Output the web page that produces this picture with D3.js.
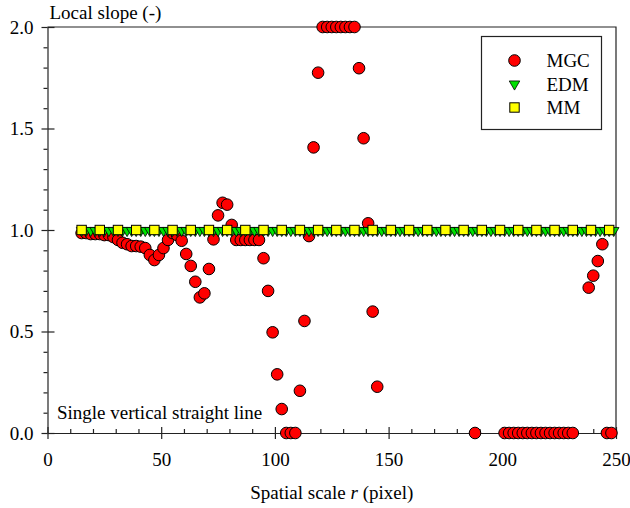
<!DOCTYPE html>
<html>
<head>
<meta charset="utf-8">
<script src="https://cdn.jsdelivr.net/npm/d3@7"></script>
<style>
  html, body { margin: 0; padding: 0; background: #fff; }
  svg { display: block; }
  text { font-family: "Liberation Serif", "Times New Roman", serif; fill: #000; }
</style>
</head>
<body>
<svg id="chart" width="630" height="508"></svg>
<script>
// ---- Data ----
const mgcX = [15,17,19,21,23,25,27,29,31,33,35,37,39,41,43,45,47,49,51,53,55,57,59,61,63,65,67,69,71,73,75,77,79,81,
  83,85,87,89,91,93,95,97,99,101,103,105,107,109,111,113,115,117,119,
  121,123,125,127,129,131,133,135,137,139,141,143,145,
  188,201,203,205,207,209,211,213,215,217,219,221,223,225,227,229,231,
  238,240,242,244,246,248];
const mgcY = [0.985,0.985,0.98,0.98,0.98,0.975,0.975,0.965,0.951,0.937,0.93,0.921,0.921,0.918,0.911,0.877,0.852,0.877,0.911,0.951,0.985,0.975,0.947,0.882,0.823,0.745,0.668,0.688,0.808,0.954,1.072,1.134,1.125,1.025,
  0.951,0.951,0.951,0.951,0.951,0.951,0.861,0.700,0.496,0.289,0.118,0,0,0,0.208,0.552,0.970,1.407,1.775,
  2.0,2.0,2.0,2.0,2.0,2.0,2.0,2.0,1.797,1.452,1.033,0.598,0.228,
  0,0,0,0,0,0,0,0,0,0,0,0,0,0,0,0,0,
  0.716,0.775,0.847,0.930,0,0];

const edmX = [15,17,19,21,23,25,27,29,31,33,35,37,39,41,43,45,47,49,51,53,55,57,59,61,63,65,67,69,71,73,75,77,79,81,83,85,87,89,91,93,95,97,99,
  101,103,105,107,109,111,113,115,117,119,121,123,125,127,129,131,133,135,137,139,141,143,145,147,149,151,153,155,157,159,161,163,165,167,169,171,173,175,177,179,181,183,185,187,189,191,193,195,197,199,
  201,203,205,207,209,211,213,215,217,219,221,223,225,227,229,231,233,235,237,239,241,243,245,247,249];
const edmY = [1,1,1,1,1,1,1,1,1,1,1,1,1,1,1,1,1,1,1,1,1,1,1,1,1,1,1,1,1,1,1,1,1,1,1,1,1,1,1,1,1,1,1,
  1,1,1,1,1,1,1,1,1,1,1,1,1,1,1,1,1,1,1,1,1,1,1,1,1,1,1,1,1,1,1,1,1,1,1,1,1,1,1,1,1,1,1,1,1,1,1,1,1,1,
  1,1,1,1,1,1,1,1,1,1,1,1,1,1,1,1,1,1,1,1,1,1,1,1,1];

const mmX = [15,23,31,39,47,55,63,71,79,87,95,103,111,119,127,135,143,151,159,167,175,183,191,199,207,215,223,231,239,247];
const mmY = [1,1,1,1,1,1,1,1,1,1,1,1,1,1,1,1,1,1,1,1,1,1,1,1,1,1,1,1,1,1];

const xTicks = [0,50,100,150,200,250];
const xMinor = [10,20,30,40,60,70,80,90,110,120,130,140,160,170,180,190,210,220,230,240];
const yTicks = [0,0.5,1.0,1.5,2.0];
const yMinor = [0.1,0.2,0.3,0.4,0.6,0.7,0.8,0.9,1.1,1.2,1.3,1.4,1.6,1.7,1.8,1.9];
const seriesNames = ["MGC","EDM","MM"];

// ---- Layout ----
const L = 47.5, R = 616, T = 27, B = 433;
const FS = 19;
const svg = d3.select("#chart");
const x = d3.scaleLinear().domain([0,250]).range([L,R]);
const y = d3.scaleLinear().domain([0,2]).range([B,T]);
const axisColor = "#222";

// frame (top & right)
svg.append("path")
  .attr("d", `M${L},${T}H${R}V${B}`)
  .attr("fill","none").attr("stroke",axisColor).attr("stroke-width",1.2);

function styleAxis(g){
  g.select(".domain").attr("stroke",axisColor).attr("stroke-width",1.2);
  g.selectAll(".tick line").attr("stroke",axisColor).attr("stroke-width",1.2);
  g.selectAll("text").attr("font-family","Liberation Serif, serif").attr("font-size",FS).attr("fill","#000");
}

// X axis
const gx = svg.append("g").attr("transform",`translate(0,${B})`)
  .call(d3.axisBottom(x).tickValues(xTicks).tickFormat(d3.format("d")).tickSizeInner(6).tickSizeOuter(0).tickPadding(14));
styleAxis(gx);
const gxIn = svg.append("g").attr("transform",`translate(0,${B})`)
  .call(d3.axisBottom(x).tickValues(xTicks).tickFormat("").tickSize(-6));
styleAxis(gxIn); gxIn.select(".domain").remove();
const gxMin = svg.append("g").attr("transform",`translate(0,${B})`)
  .call(d3.axisBottom(x).tickValues(xMinor).tickFormat("").tickSize(-4));
styleAxis(gxMin); gxMin.select(".domain").remove();

// Y axis
const gy = svg.append("g").attr("transform",`translate(${L},0)`)
  .call(d3.axisLeft(y).tickValues(yTicks).tickFormat(d3.format(".1f")).tickSizeInner(6).tickSizeOuter(0).tickPadding(8));
styleAxis(gy);
const gyIn = svg.append("g").attr("transform",`translate(${L},0)`)
  .call(d3.axisLeft(y).tickValues(yTicks).tickFormat("").tickSize(-7));
styleAxis(gyIn); gyIn.select(".domain").remove();
const gyMin = svg.append("g").attr("transform",`translate(${L},0)`)
  .call(d3.axisLeft(y).tickValues(yMinor).tickFormat("").tickSize(4));
styleAxis(gyMin); gyMin.select(".domain").remove();

// Axis titles
svg.append("text").attr("x",L+2).attr("y",19).attr("font-size",FS).text("Local slope (-)");
const xl = svg.append("text").attr("x",(L+R)/2).attr("y",499).attr("font-size",FS).attr("text-anchor","middle");
xl.append("tspan").text("Spatial scale ");
xl.append("tspan").attr("font-style","italic").text("r");
xl.append("tspan").text(" (pixel)");

// annotation
svg.append("text").attr("x",57).attr("y",419).attr("font-size",FS).text("Single vertical straight line");

// ---- Marks ----
const RED = "#ff0000", GREEN = "#00e000", YELLOW = "#ffff00";
const circR = 5.8;
const triSym = d3.symbol().type(d3.symbolTriangle).size(48);
const sq = 9.4;

// MGC
svg.append("g").selectAll("circle").data(mgcX.map((d,i)=>[d,mgcY[i]])).join("circle")
  .attr("cx",d=>x(d[0])).attr("cy",d=>y(d[1])).attr("r",circR)
  .attr("fill",RED).attr("stroke","#000").attr("stroke-width",1);

// EDM (downward triangles)
svg.append("g").selectAll("path").data(edmX.map((d,i)=>[d,edmY[i]])).join("path")
  .attr("d",triSym)
  .attr("transform",d=>`translate(${x(d[0])},${y(d[1])+0.5}) rotate(180)`)
  .attr("fill",GREEN).attr("stroke","#000").attr("stroke-width",0.8);

// MM (squares)
svg.append("g").selectAll("rect").data(mmX.map((d,i)=>[d,mmY[i]])).join("rect")
  .attr("x",d=>x(d[0])-sq/2).attr("y",d=>y(d[1])-sq/2).attr("width",sq).attr("height",sq)
  .attr("fill",YELLOW).attr("stroke","#000").attr("stroke-width",1);

// ---- Legend ----
const lg = svg.append("g");
lg.append("rect").attr("x",481.5).attr("y",36.5).attr("width",120).attr("height",93)
  .attr("fill","#fff").attr("stroke",axisColor).attr("stroke-width",1.2);
const ly = [60.5, 84, 107.5];
const lx = 514.5;
lg.append("circle").attr("cx",lx).attr("cy",ly[0]).attr("r",circR).attr("fill",RED).attr("stroke","#000");
lg.append("path").attr("d",triSym).attr("transform",`translate(${lx},${ly[1]}) rotate(180)`).attr("fill",GREEN).attr("stroke","#000").attr("stroke-width",0.8);
lg.append("rect").attr("x",lx-sq/2).attr("y",ly[2]-sq/2).attr("width",sq).attr("height",sq).attr("fill",YELLOW).attr("stroke","#000");
seriesNames.forEach((n,i)=>{
  lg.append("text").attr("x",546.5).attr("y",ly[i]+6.5).attr("font-size",FS).text(n);
});
</script>
</body>
</html>
